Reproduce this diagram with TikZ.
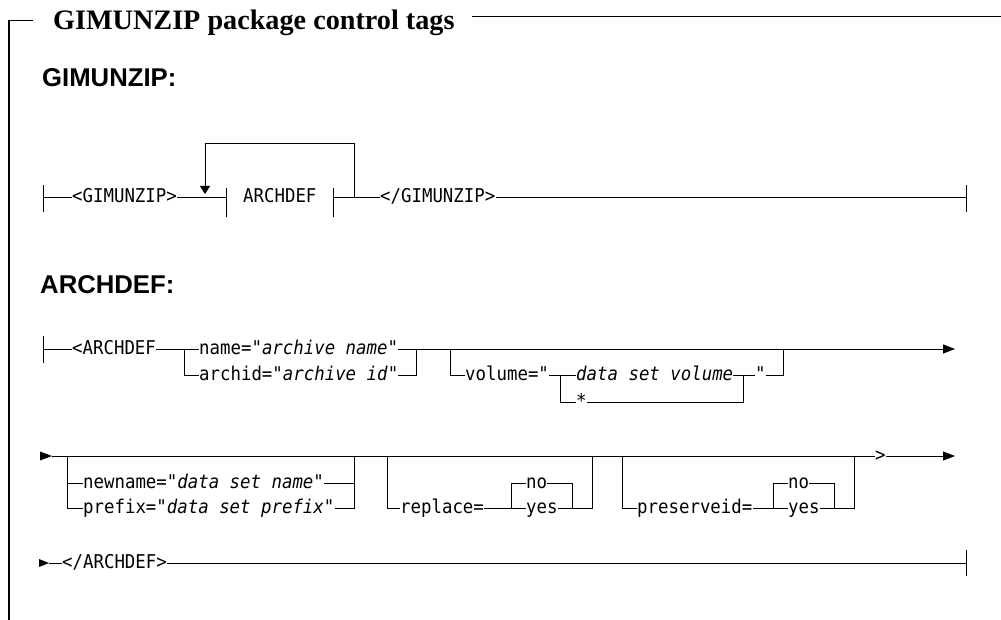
\documentclass[tikz,border=0pt]{standalone}
\usepackage{fontspec}
\setmainfont{Liberation Serif}
\setsansfont{Liberation Sans}
\setmonofont[FakeStretch=0.915]{DejaVu Sans Mono}
\usetikzlibrary{arrows.meta}
\tikzset{
  rr/.style={line width=1pt, line join=miter},
  frame/.style={line width=1.3pt},
  tx/.style={font=\fontsize{19}{22}\selectfont\ttfamily, inner sep=0pt, text height=10pt, text depth=0pt, anchor=west},
  hd/.style={font=\fontsize{25.7}{30}\selectfont\sffamily\bfseries, inner sep=0pt, anchor=base west},
  ttl/.style={font=\fontsize{28.2}{32}\selectfont\bfseries, inner sep=0pt, anchor=base west},
  tip/.style={-{Triangle[length=12pt,width=9pt]}},
  tipd/.style={-{Triangle[length=8pt,width=10pt]}}
}
\begin{document}
\begin{tikzpicture}[x=1pt,y=-1pt]
\useasboundingbox (0,0) rectangle (1001,620);
% frame and title
\draw[frame] (9,620) -- (9,20.5) -- (33,20.5);
\draw[frame] (472,16.5) -- (1001,16.5);
\node[ttl] (title) at (53,29.5) {GIMUNZIP package control tags};
\node[hd] (h1) at (42,87) {GIMUNZIP:};
\node[hd] (h2) at (40,294) {ARCHDEF:};

% ---------- GIMUNZIP row ----------
\coordinate (g0) at (43,198);
\draw[rr] (43,185) -- (43,212);
\node[tx] (g1) at (72,198) {<GIMUNZIP>};
\node[tx] (g3) at (243,198) {ARCHDEF};
\node[tx] (g2) at (380,198) {</GIMUNZIP>};
\coordinate (fl) at (226,198);
\coordinate (fr) at (333,198);
\coordinate (ge) at (966,198);
\coordinate (lr) at (354,198);
\coordinate (lt) at (354,144);
\coordinate (ll) at (205,194);
\draw[rr] (g0) -- (g1.west);
\draw[rr] (g1.east) -- (fl);
\draw[rr] (226,188) -- (226,217);
\draw[rr] (333,188) -- (333,217);
\draw[rr] (fr) -- (g2.west);
\draw[rr] (g2.east) -- (ge);
\draw[rr] (966,185) -- (966,212);
\draw[rr,tipd] (lr) -- (lt) -| (ll);

% ---------- ARCHDEF row 1 ----------
\coordinate (s1) at (43,349);
\draw[rr] (43,336) -- (43,363);
\node[tx] (a1) at (72,349) {<ARCHDEF};
\node[tx] (a2) at (199,349) {name="\textit{archive name}"};
\node[tx] (a3) at (199,375) {archid="\textit{archive id}"};
\node[tx] (a4) at (465,375) {volume="};
\node[tx] (a5) at (576,375) {\textit{data set volume}};
\node[tx] (a6) at (576,402) {*};
\node[tx] (a7) at (755,375) {"};
\coordinate (j1) at (184,349);
\coordinate (j2) at (416,349);
\coordinate (j3) at (450,349);
\coordinate (j4) at (783,349);
\coordinate (k1) at (560,375);
\coordinate (k2) at (743,375);
\coordinate (e1) at (955,349);
\draw[rr] (s1) -- (a1.west);
\draw[rr] (a1.east) -- (a2.west);
\draw[rr] (j1) |- (a3.west);
\draw[rr] (a3.east) -| (j2);
\draw[rr,tip] (a2.east) -- (e1);
\draw[rr] (j3) |- (a4.west);
\draw[rr] (a4.east) -- (a5.west);
\draw[rr] (k1) |- (a6.west);
\draw[rr] (a5.east) -- (a7.west);
\draw[rr] (a6.east) -| (k2);
\draw[rr] (a7.east) -| (j4);

% ---------- ARCHDEF row 2 ----------
\fill (40,451.5) -- (52,456) -- (40,460.5) -- cycle;
\coordinate (r2s) at (52,456);
\coordinate (r2e) at (955,456);
\node[tx] (b8) at (875,456) {>};
\draw[rr] (r2s) -- (b8.west);
\draw[rr,tip] (b8.east) -- (r2e);
% box 1
\coordinate (p1) at (67,456);
\coordinate (p2) at (354,456);
\node[tx] (b1) at (83,483) {newname="\textit{data set name}"};
\node[tx] (b2) at (83,508) {prefix="\textit{data set prefix}"};
\draw[rr] (p1) |- (b2.west);
\draw[rr] (p1 |- b1.west) -- (b1.west);
\draw[rr] (b2.east) -| (p2);
\draw[rr] (b1.east) -- (p2 |- b1.east);
% box 2
\coordinate (p3) at (387,456);
\coordinate (p4) at (592,456);
\coordinate (q1) at (511,508);
\coordinate (q2) at (572,508);
\node[tx] (b3) at (400,508) {replace=};
\node[tx] (b4) at (526,483) {no};
\node[tx] (b5) at (526,508) {yes};
\draw[rr] (p3) |- (b3.west);
\draw[rr] (b3.east) -- (b5.west);
\draw[rr] (b5.east) -| (p4);
\draw[rr] (q1) |- (b4.west);
\draw[rr] (b4.east) -| (q2);
% box 3
\coordinate (p5) at (622,456);
\coordinate (p6) at (854,456);
\coordinate (q3) at (773,508);
\coordinate (q4) at (834,508);
\node[tx] (b6) at (637,508) {preserveid=};
\node[tx] (b7) at (788,483) {no};
\node[tx] (b9) at (788,508) {yes};
\draw[rr] (p5) |- (b6.west);
\draw[rr] (b6.east) -- (b9.west);
\draw[rr] (b9.east) -| (p6);
\draw[rr] (q3) |- (b7.west);
\draw[rr] (b7.east) -| (q4);

% ---------- ARCHDEF row 3 ----------
\fill (39,559) -- (49,563) -- (39,567) -- cycle;
\coordinate (c0) at (49,563);
\coordinate (c2) at (966,563);
\node[tx] (c1) at (62,563) {</ARCHDEF>};
\draw[rr] (c0) -- (c1.west);
\draw[rr] (c1.east) -- (c2);
\draw[rr] (966,550) -- (966,576);
\end{tikzpicture}
\end{document}
